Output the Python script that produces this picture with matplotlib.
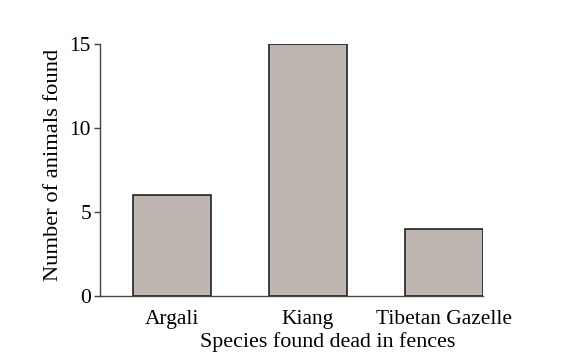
import matplotlib
matplotlib.use("Agg")
import matplotlib.pyplot as plt

categories = ["Argali", "Kiang", "Tibetan Gazelle"]
counts = [6, 15, 4]
yticks = [0, 5, 10, 15]

plt.rcParams['font.family'] = ['Liberation Serif', 'DejaVu Serif']

fig = plt.figure(figsize=(5.74, 3.61), dpi=100)
ax = fig.add_axes([100/574, 1-296/361, 383/574, 252/361])
x = list(range(len(categories)))
ax.bar(x, counts, width=0.575, color='#bfb5b0', edgecolor='#222222', linewidth=1.2)
ax.set_xlim(-0.53, 2.2875)
ax.set_ylim(0, 15)
ax.set_yticks(yticks)
ax.set_xticks(x)
ax.set_xticklabels(categories)
ax.tick_params(axis='x', length=0, labelsize=15.5, pad=10)
ax.tick_params(axis='y', length=4.5, labelsize=15.5, width=1, color='#444444', pad=2)
for s in ['top', 'right']:
    ax.spines[s].set_visible(False)
for s in ['left', 'bottom']:
    ax.spines[s].set_color('#444444')
    ax.spines[s].set_linewidth(1)
ax.set_xlabel("Species found dead in fences", fontsize=15.8, labelpad=5)
ax.xaxis.set_label_coords(0.594, -0.143, transform=ax.transAxes)
ax.xaxis.label.set_verticalalignment('top')
ax.set_ylabel("Number of animals found", fontsize=16.2, labelpad=5)
ax.yaxis.label.set_y(0.52)
fig.savefig("out.png", dpi=100)
